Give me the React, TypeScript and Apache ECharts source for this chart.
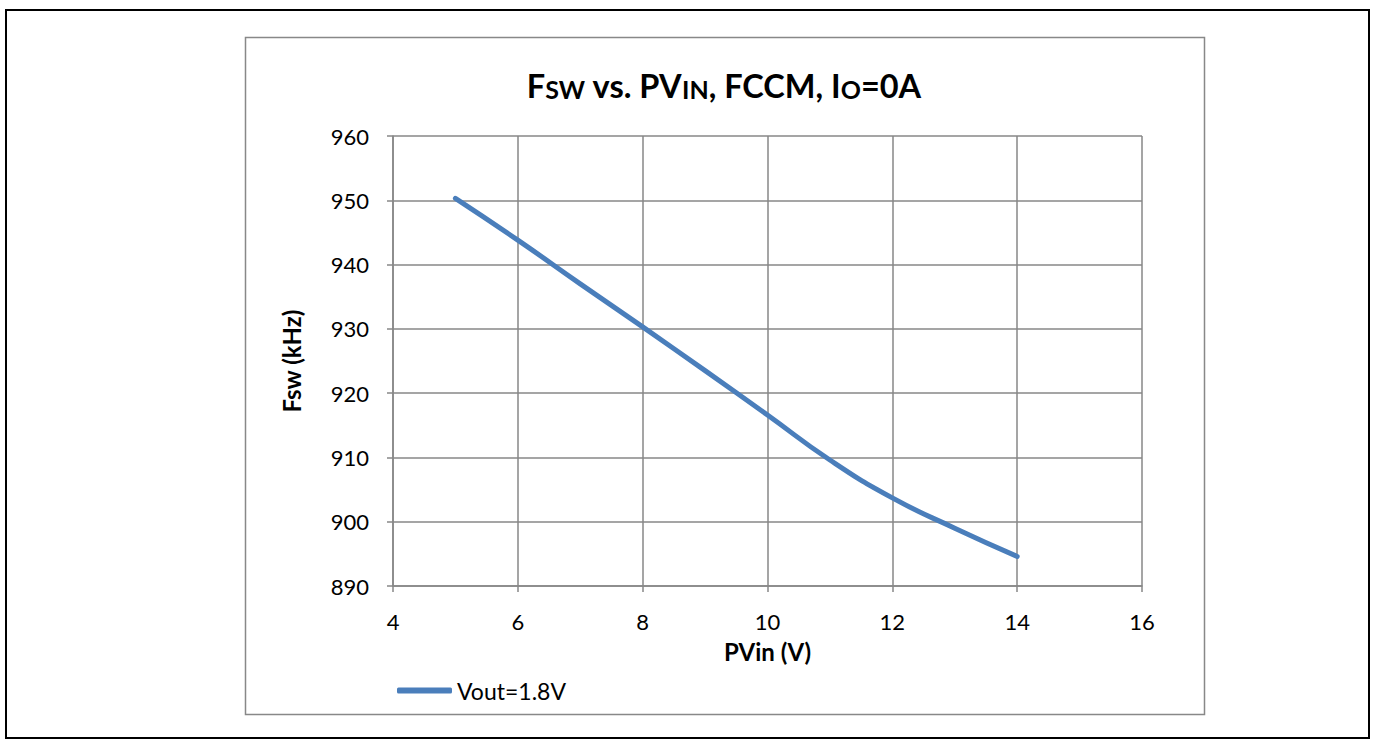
import React, { useEffect, useRef } from "react";
import * as echarts from "echarts";

const pvin: number[] = [5, 6, 7, 8, 9, 10, 11, 12, 13, 14];
const fsw: number[] = [950.3, 943.8, 937.0, 930.3, 923.5, 916.6, 909.6, 903.7, 899.0, 894.6];
const seriesName = "Vout=1.8V";
const xAxisTitle = "PVin (V)";
const yAxisTitle = "Fsw (kHz)";
const titleRich = "{b|F}{s|SW}{b| vs. PV}{s|IN}{b|, FCCM, I}{s|O}{b|=0A}";

const FONT = "Lato, 'Open Sans', sans-serif";
const GRID_COLOR = "#878787";
const LINE_COLOR = "#4A7EBB";

export default function App() {
  const ref = useRef<HTMLDivElement>(null);
  useEffect(() => {
    if (!ref.current) return;
    const chart = echarts.init(ref.current, undefined, { renderer: "svg" });
    chart.setOption({
      animation: false,
      backgroundColor: "#ffffff",
      textStyle: { fontFamily: FONT },
      graphic: [
        {
          type: "rect",
          shape: { x: 6, y: 10, width: 1363, height: 728 },
          style: { fill: "none", stroke: "#000", lineWidth: 2 },
          silent: true,
        },
        {
          type: "rect",
          shape: { x: 245.5, y: 37.5, width: 959, height: 677 },
          style: { fill: "none", stroke: "#888", lineWidth: 1.5 },
          silent: true,
        },
        {
          type: "text",
          x: 724,
          y: 102,
          style: {
            text: titleRich,
            align: "center",
            verticalAlign: "bottom",
            rich: {
              b: { fontSize: 32.5, fontWeight: "bold", fontFamily: FONT, fill: "#000", verticalAlign: "bottom" },
              s: { fontSize: 25, fontWeight: "bold", fontFamily: FONT, fill: "#000", verticalAlign: "bottom", padding: [0, 0, 1, 0] },
            },
          },
        },
      ],
      grid: { left: 393, top: 136, width: 749, height: 450, containLabel: false },
      legend: {
        left: 392,
        top: 674,
        icon: "roundRect",
        itemWidth: 55,
        itemHeight: 6,
        data: [seriesName],
        textStyle: { fontSize: 23, color: "#000", fontFamily: FONT },
      },
      xAxis: {
        type: "value",
        min: 4,
        max: 16,
        interval: 2,
        name: xAxisTitle,
        nameLocation: "middle",
        nameGap: 53,
        nameTextStyle: { fontSize: 24, fontWeight: "bold", color: "#000", fontFamily: FONT },
        axisLine: { show: true, lineStyle: { color: GRID_COLOR, width: 1.5 } },
        axisTick: { show: true, length: 6, inside: false, lineStyle: { color: GRID_COLOR, width: 1.5 } },
        axisLabel: { fontSize: 22, color: "#000", margin: 24, fontFamily: FONT },
        splitLine: { show: true, lineStyle: { color: GRID_COLOR, width: 1.5 } },
      },
      yAxis: {
        type: "value",
        min: 890,
        max: 960,
        interval: 10,
        name: yAxisTitle,
        nameLocation: "middle",
        nameRotate: 90,
        nameGap: 90,
        nameTextStyle: { fontSize: 24, fontWeight: "bold", color: "#000", fontFamily: FONT },
        axisLine: { show: true, lineStyle: { color: GRID_COLOR, width: 1.5 } },
        axisTick: { show: true, length: 6, inside: false, lineStyle: { color: GRID_COLOR, width: 1.5 } },
        axisLabel: { fontSize: 22, color: "#000", margin: 24, fontFamily: FONT },
        splitLine: { show: true, lineStyle: { color: GRID_COLOR, width: 1.5 } },
      },
      series: [
        {
          name: seriesName,
          type: "line",
          data: pvin.map((x, i) => [x, fsw[i]]),
          smooth: true,
          symbol: "none",
          lineStyle: { color: LINE_COLOR, width: 5, cap: "round", join: "round" },
          itemStyle: { color: LINE_COLOR },
        },
      ],
    });
    return () => chart.dispose();
  }, []);
  return (
    <div
      ref={ref}
      style={{ position: "fixed", left: 0, top: 0, width: 1375, height: 744 }}
    />
  );
}
